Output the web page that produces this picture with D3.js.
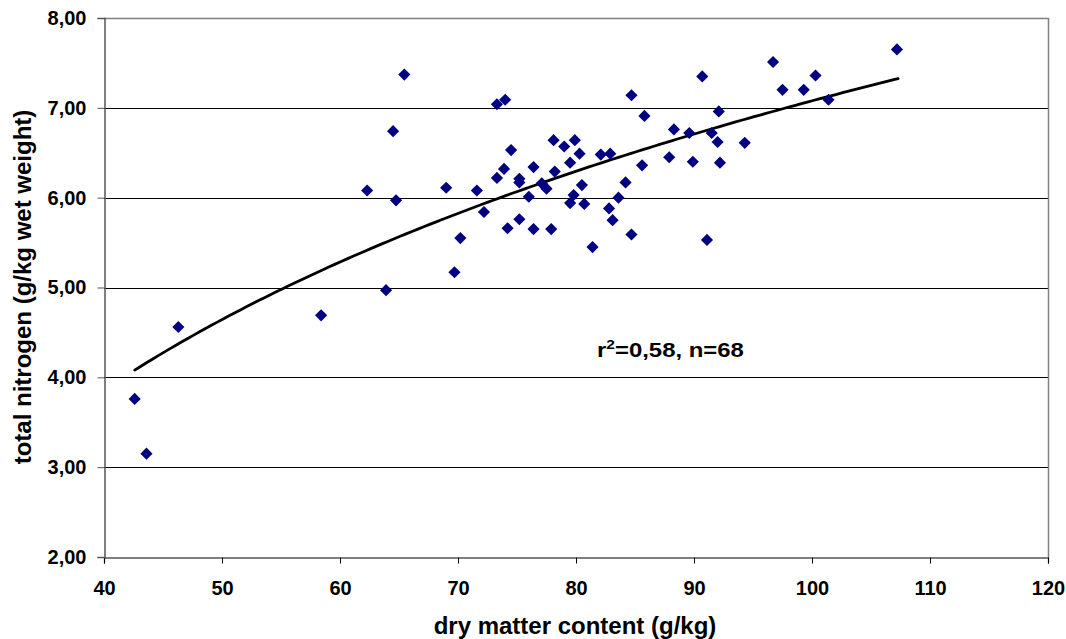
<!DOCTYPE html>
<html>
<head>
<meta charset="utf-8">
<script src="https://cdn.jsdelivr.net/npm/d3@7"></script>
<style>
  html, body { margin: 0; padding: 0; background: #fff; }
  svg { display: block; }
  text { font-family: "Liberation Sans", Arial, sans-serif; font-weight: bold; fill: #000; }
</style>
</head>
<body>
<svg id="chart" width="1066" height="639"></svg>
<script>
// ---- data ----
const dryMatter = [42.6, 43.6, 46.3, 58.4, 62.3, 63.9, 64.5, 64.75, 65.45, 69.0,
  69.7, 70.2, 71.6, 72.2, 73.3, 74.0, 73.3, 73.9, 74.5, 74.2,
  75.2, 75.2, 75.2, 76.0, 76.4, 76.4, 77.1, 77.5, 77.9, 78.1,
  78.2, 79.0, 79.9, 79.5, 80.3, 80.5, 79.8, 79.5, 80.7, 81.4,
  82.1, 82.9, 82.8, 83.6, 83.1, 84.2, 84.7, 84.7, 85.8, 85.6,
  88.3, 87.9, 89.6, 89.9, 90.7, 91.1, 91.5, 92.0, 92.1, 92.2,
  94.3, 96.7, 97.5, 99.3, 100.3, 101.4, 107.2];
const totalNitrogen = [3.76, 3.15, 4.56, 4.69, 6.08, 4.97, 6.74, 5.97, 7.37, 6.11,
  5.17, 5.55, 6.08, 5.84, 7.04, 7.09, 6.22, 6.32, 6.53, 5.66,
  6.21, 6.17, 5.76, 6.01, 6.34, 5.65, 6.16, 6.10, 5.65, 6.64,
  6.29, 6.57, 6.64, 6.39, 6.49, 6.14, 6.03, 5.94, 5.93, 5.45,
  6.48, 6.49, 5.88, 6.00, 5.75, 6.17, 5.59, 7.14, 6.91, 6.36,
  6.76, 6.45, 6.72, 6.40, 7.35, 5.53, 6.72, 6.62, 6.96, 6.39,
  6.61, 7.51, 7.20, 7.20, 7.36, 7.09, 7.65];
// logarithmic trend line y = a + b*ln(x), drawn between these x limits
const trendA = -9.10;
const trendB = 3.513;
const trendRange = [42.6, 107.3];
const xTicks = [40, 50, 60, 70, 80, 90, 100, 110, 120];
const yTicks = [2, 3, 4, 5, 6, 7, 8];
const xTitle = "dry matter content (g/kg)";
const yTitle = "total nitrogen (g/kg wet weight)";

(function () {
// ---- layout ----
const pLeft = 104, pRight = 1048, pTop = 18, pBottom = 557;
const svg = d3.select("#chart");
const x = d3.scaleLinear().domain([40, 120]).range([pLeft, pRight]);
const y = d3.scaleLinear().domain([2, 8]).range([pBottom, pTop]);
const fmt = d => d.toFixed(2).replace(".", ",");
const FONT = "'Liberation Sans', Arial, sans-serif";

// gridlines
svg.append("g")
  .selectAll("line").data(yTicks.filter(t => t > 2 && t < 8)).join("line")
  .attr("x1", pLeft).attr("x2", pRight)
  .attr("y1", d => Math.round(y(d)) + 0.5).attr("y2", d => Math.round(y(d)) + 0.5)
  .attr("stroke", "#000").attr("stroke-width", 1);

// plot border (top, right)
svg.append("path")
  .attr("d", `M${pLeft},${pTop + 0.5}H${pRight + 0.5}V${pBottom}`)
  .attr("fill", "none").attr("stroke", "#808080").attr("stroke-width", 1.5);

// axes
const xAxis = d3.axisBottom(x).tickValues(xTicks).tickSize(6).tickPadding(17).tickFormat(d3.format("d"));
const gx = svg.append("g").attr("transform", `translate(0,${Math.round(pBottom) + 0.5})`).call(xAxis);
gx.select(".domain").attr("stroke", "#000").attr("stroke-width", 1.2);
gx.selectAll(".tick line").attr("stroke", "#000");
gx.selectAll(".tick text").attr("font-size", 20).style("font-family", FONT).style("font-weight", "bold");

const yAxis = d3.axisLeft(y).tickValues(yTicks).tickSize(7).tickPadding(11).tickFormat(fmt);
const gy = svg.append("g").attr("transform", `translate(${pLeft + 0.5},0)`).call(yAxis);
gy.select(".domain").attr("stroke", "#555").attr("stroke-width", 1.5);
gy.selectAll(".tick line").attr("stroke", "#555");
gy.selectAll(".tick text").attr("font-size", 20).style("font-family", FONT).style("font-weight", "bold");

// trend line
const trendX = d3.range(trendRange[0], trendRange[1] + 0.001, 0.5).concat([trendRange[1]]);
svg.append("path")
  .datum(trendX)
  .attr("d", d3.line().x(d => x(d)).y(d => y(trendA + trendB * Math.log(d))))
  .attr("fill", "none").attr("stroke", "#000").attr("stroke-width", 2.8)
  .attr("stroke-linecap", "round");

// points
const pts = dryMatter.map((d, i) => ({ x: d, y: totalNitrogen[i] }));
svg.append("g")
  .selectAll("path").data(pts).join("path")
  .attr("d", d3.symbol(d3.symbolSquare, 74))
  .attr("transform", d => `translate(${x(d.x)},${y(d.y)}) rotate(45)`)
  .attr("fill", "#000080");

// annotation (horizontally widened to match the reference)
const annG = svg.append("g");
const ann = annG.append("text").attr("x", 0).attr("y", 0).attr("font-size", 20);
ann.append("tspan").text("r");
ann.append("tspan").attr("dy", -8).attr("font-size", 13).text("2");
ann.append("tspan").attr("dy", 8).text("=0,58, n=68");
const annW = ann.node().getBBox().width || 123;
annG.attr("transform", `translate(597,357) scale(${147 / annW},1)`);

// axis titles
svg.append("text").attr("x", 575).attr("y", 634).attr("text-anchor", "middle")
  .attr("font-size", 24).text(xTitle);
svg.append("text").attr("transform", "translate(31,287) rotate(-90)").attr("text-anchor", "middle")
  .attr("font-size", 24).text(yTitle);
})();
</script>
</body>
</html>
